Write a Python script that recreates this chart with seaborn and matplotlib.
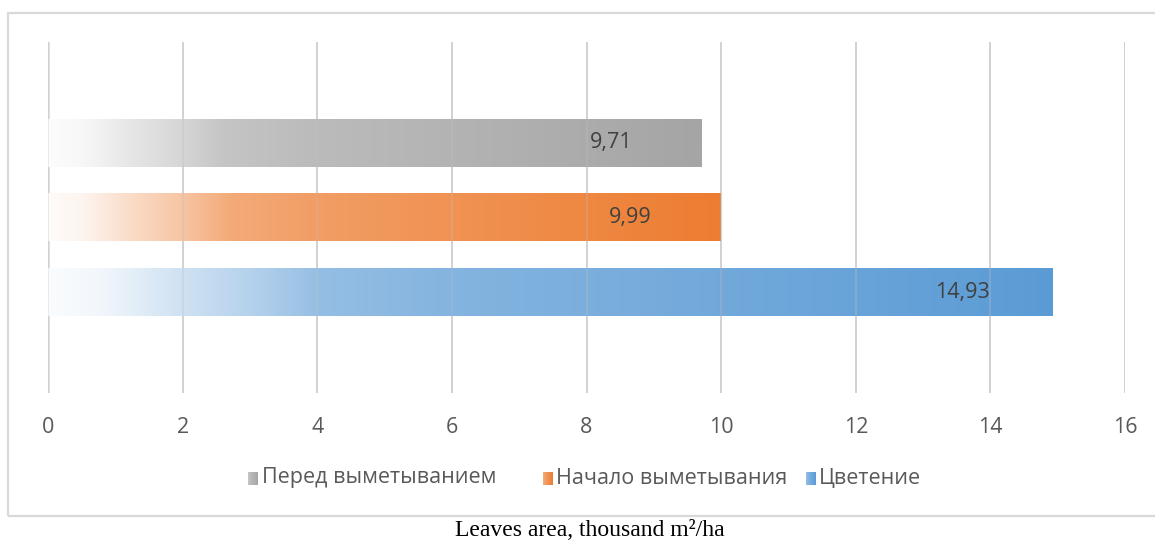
import numpy as np
import pandas as pd
import seaborn as sns
import matplotlib.pyplot as plt
from matplotlib.colors import to_rgb
from matplotlib.patches import Rectangle

# Data
stages = ['Перед выметыванием', 'Начало выметывания', 'Цветение']
values = [9.71, 9.99, 14.93]
labels = ['9,71', '9,99', '14,93']
colors = ['#a5a5a5', '#ed7d31', '#5b9bd5']
xticks = [0, 2, 4, 6, 8, 10, 12, 14, 16]
caption = 'Leaves area, thousand m²/ha'

df = pd.DataFrame({'stage': stages, 'value': values})

sns.set_style('white')
plt.rcParams['font.family'] = ['Open Sans', 'DejaVu Sans']

W, H = 1155, 542
fig = plt.figure(figsize=(W / 100, H / 100), dpi=100)

# axes placed in pixel terms of the reference
left, right, top, bottom = 48, 1125, 42, 393
ax = fig.add_axes([left / W, 1 - bottom / H, (right - left) / W, (bottom - top) / H])

sns.barplot(data=df, x='value', y='stage', hue='stage', palette=colors,
            orient='h', width=0.64, legend=False, ax=ax)

# gradient ramp: white at the base of the bar -> full colour at its end
def gradient_img(color, n=256):
    t = np.linspace(0, 1, n)
    alpha = np.interp(t, [0, 0.05, 0.13, 0.2, 0.27, 0.4, 1.0],
                      [0.03, 0.08, 0.29, 0.45, 0.65, 0.75, 1.0])
    rgb = np.array(to_rgb(color))
    img = 1 - alpha[:, None] * (1 - rgb[None, :])
    return img[None, :, :]

for patch, c in zip(ax.patches, colors):
    x0, y0 = patch.get_x(), patch.get_y()
    w, h = patch.get_width(), patch.get_height()
    patch.set_facecolor('none')
    patch.set_edgecolor('none')
    ax.imshow(gradient_img(c), extent=[x0, x0 + w, y0 + h, y0], aspect='auto',
              interpolation='bilinear', zorder=2)

# data labels near the bar end
for i, (v, lab) in enumerate(zip(values, labels)):
    ax.annotate(lab, xy=(v, i), xytext=(-65, 0), textcoords='offset points',
                ha='center', va='center', fontsize=15.5, color='#404040', zorder=4)

ax.set_xlim(0, 16)
ax.set_ylim(3.347, -1.347)
ax.set_xticks(xticks)
ax.set_xticklabels([str(t) for t in xticks], fontsize=15.5, color='#595959')
ax.tick_params(axis='x', length=0, pad=17)
ax.set_yticks([])
ax.set_xlabel('')
ax.set_ylabel('')
for s in ax.spines.values():
    s.set_visible(False)

# gridlines
for t in xticks:
    ax.axvline(t, color='#d9d9d9', lw=2.6 if t == 0 else 1.4, zorder=1)
    ax.axvline(t, color='#bfbfbf', lw=1.2, alpha=0.35, zorder=3)

# legend drawn by hand below the plot
leg = [(248, 262), (543, 556), (806, 819)]
for (mx, tx), name, c in zip(leg, stages, colors):
    lax = fig.add_axes([mx / W, 1 - 485 / H, 10 / W, 13 / H])
    lax.imshow(gradient_img(c)[:, 60:, :], aspect='auto', interpolation='bilinear',
               extent=[0, 1, 0, 1])
    lax.set_axis_off()
    fig.text(tx / W, 1 - 478 / H, name, ha='left', va='center',
             fontsize=15.5, color='#595959')

# outer chart frame
fig.add_artist(Rectangle((8 / W, 1 - 516 / H), 1160 / W, 503 / H,
                         transform=fig.transFigure, fill=False,
                         edgecolor='#d9d9d9', lw=1.6))

fig.text(590 / W, 1 - 531 / H, caption, ha='center', va='center',
         fontsize=17, family=['Liberation Serif', 'DejaVu Serif'], color='black')

fig.savefig('out.png', dpi=100)
